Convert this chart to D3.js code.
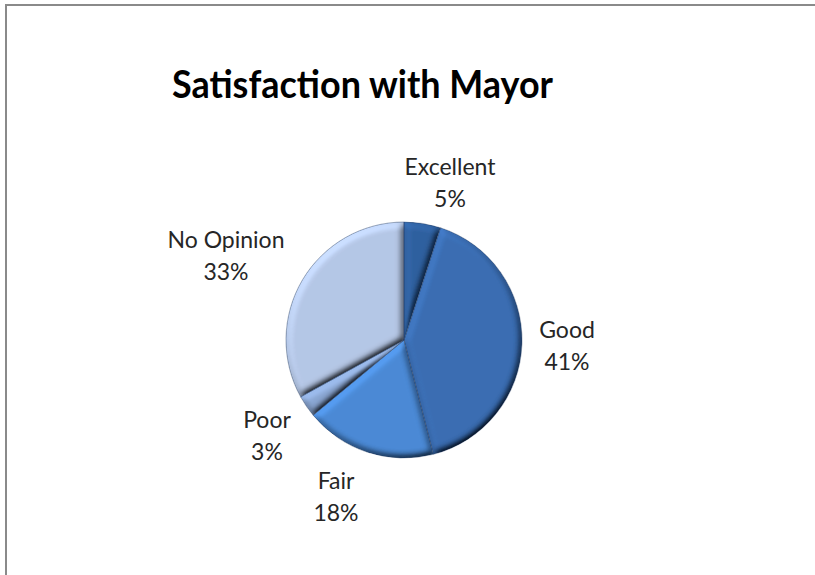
<!DOCTYPE html>
<html>
<head>
<meta charset="utf-8">
<script src="https://cdn.jsdelivr.net/npm/d3@7"></script>
<style>
  html, body { margin: 0; padding: 0; background: #fff; overflow: hidden; }
  svg { display: block; }
</style>
</head>
<body>
<script>
// Survey results: share of respondents per answer
const categories = ["Excellent", "Good", "Fair", "Poor", "No Opinion"];
const percents = [5, 41, 18, 3, 33];
const sliceColors = ["#2f609f", "#3a6db2", "#4b8ad6", "#8aa6d2", "#b5c7e6"];
const titleText = "Satisfaction with Mayor";

const W = 815, H = 575;
const cx = 404, cy = 340, R = 118;

const svg = d3.select("body").append("svg")
  .attr("width", W).attr("height", H);

// frame of the chart area (top and left edges visible)
svg.append("line").attr("x1", 5).attr("x2", W + 5).attr("y1", 5).attr("y2", 5)
  .attr("stroke", "#8a8a8a").attr("stroke-width", 2);
svg.append("line").attr("x1", 6).attr("x2", 6).attr("y1", 4).attr("y2", H + 5)
  .attr("stroke", "#8a8a8a").attr("stroke-width", 2);

// bevel lighting so every slice looks raised, lit from the upper left
const defs = svg.append("defs");
const f = defs.append("filter").attr("id", "bevel")
  .attr("x", "-10%").attr("y", "-10%").attr("width", "120%").attr("height", "120%");
f.append("feGaussianBlur").attr("in", "SourceAlpha").attr("stdDeviation", 3.6).attr("result", "blur");
f.append("feDiffuseLighting").attr("in", "blur").attr("surfaceScale", 5)
  .attr("diffuseConstant", 1).attr("lighting-color", "#ffffff").attr("result", "light")
  .append("feDistantLight").attr("azimuth", 235).attr("elevation", 50);
f.append("feComposite").attr("in", "SourceGraphic").attr("in2", "light")
  .attr("operator", "arithmetic").attr("k1", 1.3).attr("k2", 0).attr("k3", 0).attr("k4", 0)
  .attr("result", "lit");
f.append("feComposite").attr("in", "lit").attr("in2", "SourceAlpha").attr("operator", "in");

const pie = d3.pie().sort(null).value(d => d.value);
const data = categories.map((c, i) => ({ name: c, value: percents[i], color: sliceColors[i] }));
const arcs = pie(data);
const arc = d3.arc().innerRadius(0).outerRadius(R);

const g = svg.append("g").attr("transform", `translate(${cx},${cy})`);
g.selectAll("path.slice").data(arcs).enter().append("path")
  .attr("class", "slice")
  .attr("d", arc)
  .attr("fill", d => d.data.color)
  .attr("filter", "url(#bevel)");
g.selectAll("path.edge").data(arcs).enter().append("path")
  .attr("class", "edge")
  .attr("d", arc)
  .attr("fill", "none")
  .attr("stroke", "#1d3a63")
  .attr("stroke-opacity", 0.5)
  .attr("stroke-width", 0.8);

// title
svg.append("text")
  .attr("x", 362.5).attr("y", 98)
  .attr("text-anchor", "middle")
  .attr("font-family", "Lato, 'Open Sans', sans-serif")
  .attr("font-weight", 700)
  .attr("font-size", 39)
  .attr("textLength", 381)
  .attr("lengthAdjust", "spacingAndGlyphs")
  .attr("fill", "#000")
  .text(titleText);

// data labels: name above, percentage below, placed outside each slice
const labelPos = [
  { x: 450, y: 175 },
  { x: 567, y: 338 },
  { x: 336, y: 489 },
  { x: 267, y: 428 },
  { x: 226, y: 248 }
];
const lbl = svg.append("g")
  .attr("font-family", "Lato, 'Open Sans', sans-serif")
  .attr("font-size", 23)
  .attr("fill", "#262626")
  .attr("text-anchor", "middle");
arcs.forEach((a, i) => {
  const t = lbl.append("text").attr("x", labelPos[i].x).attr("y", labelPos[i].y);
  t.append("tspan").attr("x", labelPos[i].x).text(a.data.name);
  t.append("tspan").attr("x", labelPos[i].x).attr("dy", 31.5).text(a.data.value + "%");
});
</script>
</body>
</html>
